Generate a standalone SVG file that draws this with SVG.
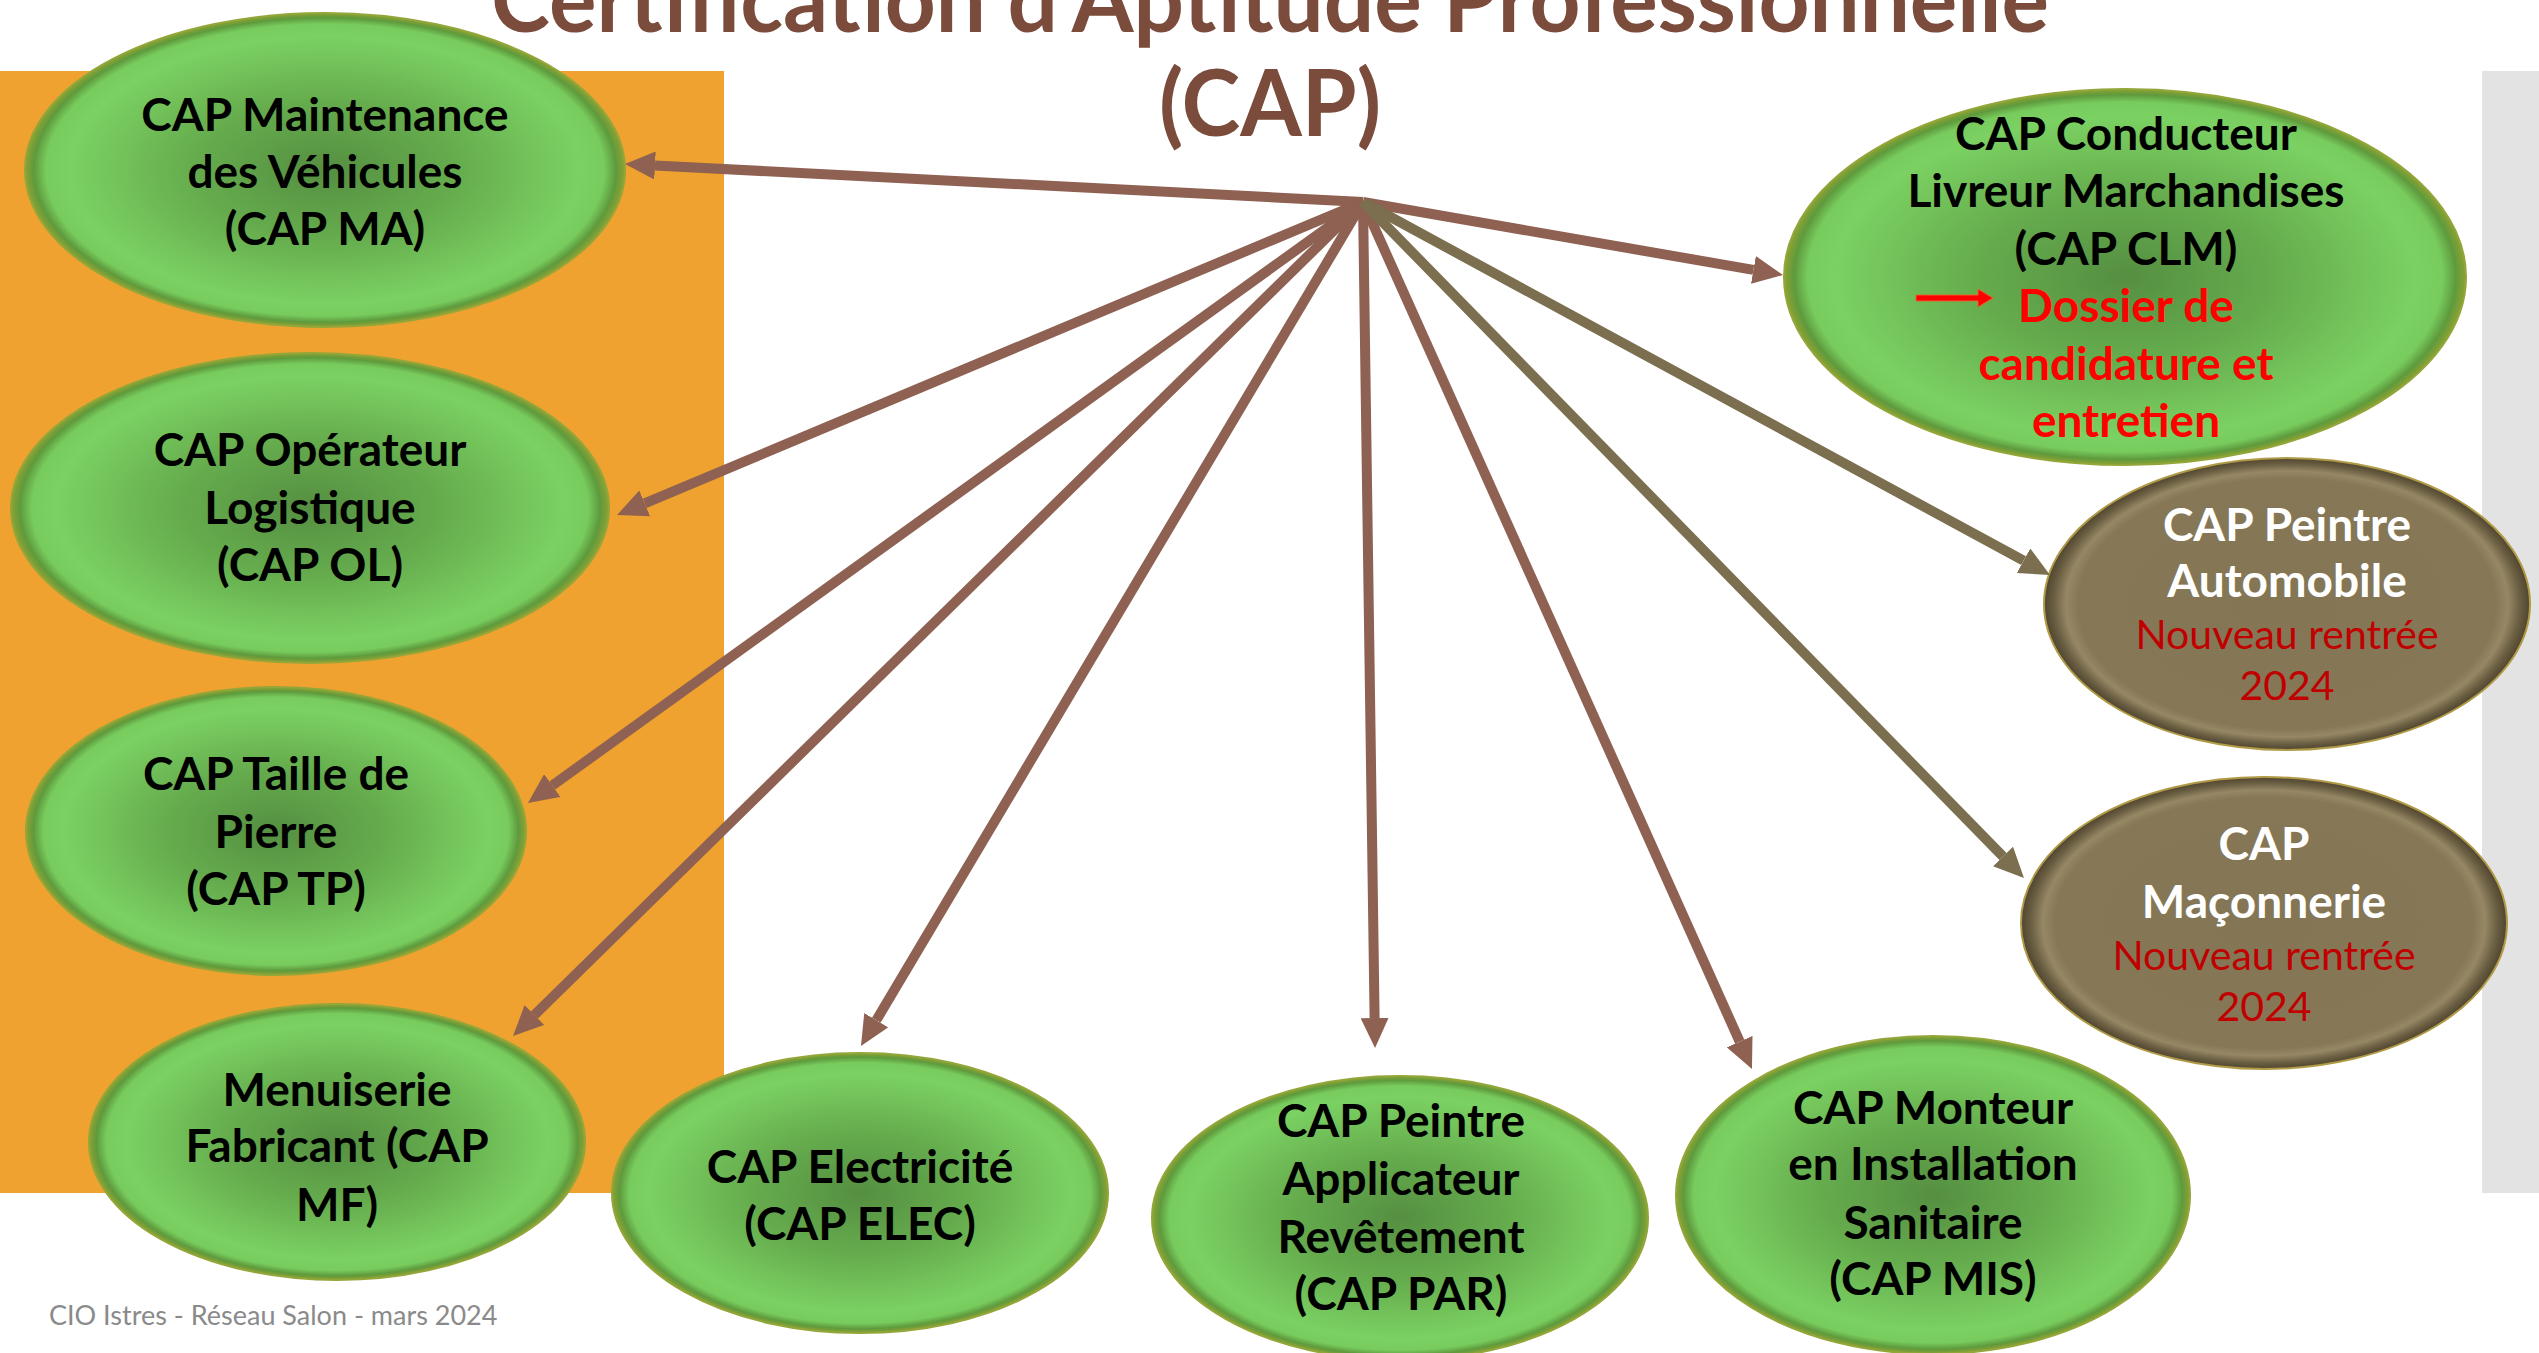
<svg xmlns="http://www.w3.org/2000/svg" width="2539" height="1353" viewBox="0 0 2539 1353">
<defs>
<radialGradient id="gGreen" cx="50%" cy="50%" r="50%">
<stop offset="0%" stop-color="#558f41"/>
<stop offset="45%" stop-color="#66ad4e"/>
<stop offset="85%" stop-color="#7bd162"/>
<stop offset="93%" stop-color="#78cc5e"/>
<stop offset="97%" stop-color="#5e9a3d"/>
<stop offset="100%" stop-color="#8da232"/>
</radialGradient>
<radialGradient id="gBrown" cx="50%" cy="50%" r="50%">
<stop offset="0%" stop-color="#847655"/>
<stop offset="86%" stop-color="#867857"/>
<stop offset="91%" stop-color="#968865"/>
<stop offset="96%" stop-color="#6a5e42"/>
<stop offset="100%" stop-color="#4f4530"/>
</radialGradient>
<marker id="ahB" viewBox="0 -14 30 28" refX="0" refY="0" markerWidth="30" markerHeight="28" markerUnits="userSpaceOnUse" orient="auto">
<path d="M0,-14 L30,0 L0,14 z" fill="#8e6152"/>
</marker>
<marker id="ahO" viewBox="0 -14 30 28" refX="0" refY="0" markerWidth="30" markerHeight="28" markerUnits="userSpaceOnUse" orient="auto">
<path d="M0,-14 L30,0 L0,14 z" fill="#7b6f4f"/>
</marker>
</defs>
<style>
.g{fill:url(#gGreen);stroke:#93a63a;stroke-width:2}
.b{fill:url(#gBrown);stroke:#b09a45;stroke-width:2}
.t{font-family:Lato,"Liberation Sans",sans-serif;font-weight:bold;font-size:46px;text-anchor:middle;fill:#000}
.w{fill:#fff}
.rb{fill:#ff0000}
.rn{font-family:Lato,"Liberation Sans",sans-serif;font-weight:normal;font-size:41px;text-anchor:middle;fill:#c00000}
.cb{fill:none;stroke:#8e6152;stroke-width:10;marker-end:url(#ahB)}
.co{fill:none;stroke:#7b6f4f;stroke-width:10;marker-end:url(#ahO)}
</style>
<rect x="0" y="0" width="2539" height="1353" fill="#ffffff"/>
<rect x="0" y="71" width="724" height="1122" fill="#efa22f"/>
<rect x="2482" y="71" width="57" height="1122" fill="#e3e3e3"/>
<g id="title" font-family="Lato,'Liberation Sans',sans-serif" font-weight="bold" font-size="92" fill="#7b4b3b" text-anchor="middle">
<text x="1270" y="32" textLength="1558" lengthAdjust="spacingAndGlyphs">Certification d’Aptitude Professionnelle</text>
<text x="1270" y="136" textLength="222" lengthAdjust="spacingAndGlyphs">(CAP)</text>
</g>
<g id="node-ma">
<ellipse class="g" cx="325" cy="170" rx="300" ry="157"/>
<text class="t" x="325" y="131">CAP Maintenance</text>
<text class="t" x="325" y="188">des Véhicules</text>
<text class="t" x="325" y="245">(CAP MA)</text>
</g>
<g id="node-ol">
<ellipse class="g" cx="310" cy="508" rx="299" ry="155"/>
<text class="t" x="310" y="466">CAP Opérateur</text>
<text class="t" x="310" y="524">Logistique</text>
<text class="t" x="310" y="581">(CAP OL)</text>
</g>
<g id="node-tp">
<ellipse class="g" cx="276" cy="831" rx="250" ry="144"/>
<text class="t" x="276" y="790">CAP Taille de</text>
<text class="t" x="276" y="848">Pierre</text>
<text class="t" x="276" y="905">(CAP TP)</text>
</g>
<g id="node-mf">
<ellipse class="g" cx="337" cy="1142" rx="248" ry="138"/>
<text class="t" x="337" y="1106">Menuiserie</text>
<text class="t" x="337" y="1162">Fabricant (CAP</text>
<text class="t" x="337" y="1221">MF)</text>
</g>
<g id="node-elec">
<ellipse class="g" cx="860" cy="1193" rx="248" ry="140"/>
<text class="t" x="860" y="1183">CAP Electricité</text>
<text class="t" x="860" y="1240">(CAP ELEC)</text>
</g>
<g id="node-par">
<ellipse class="g" cx="1400" cy="1218" rx="248" ry="142"/>
<text class="t" x="1401" y="1137">CAP Peintre</text>
<text class="t" x="1401" y="1195">Applicateur</text>
<text class="t" x="1401" y="1253">Revêtement</text>
<text class="t" x="1401" y="1310">(CAP PAR)</text>
</g>
<g id="node-mis">
<ellipse class="g" cx="1933" cy="1195" rx="257" ry="159"/>
<text class="t" x="1933" y="1124">CAP Monteur</text>
<text class="t" x="1933" y="1180">en Installation</text>
<text class="t" x="1933" y="1239">Sanitaire</text>
<text class="t" x="1933" y="1295">(CAP MIS)</text>
</g>
<g id="node-clm">
<ellipse class="g" cx="2125" cy="277" rx="341" ry="188"/>
<text class="t" x="2126" y="150">CAP Conducteur</text>
<text class="t" x="2126" y="207">Livreur Marchandises</text>
<text class="t" x="2126" y="265">(CAP CLM)</text>
<path d="M1916,295 L1978,295 L1978,289 L1993,298 L1978,307 L1978,301 L1916,301 z" fill="#ff0000" stroke="#e8622a" stroke-width="1"/>
<text class="t rb" x="2126" y="322">Dossier de</text>
<text class="t rb" x="2126" y="380">candidature et</text>
<text class="t rb" x="2126" y="437">entretien</text>
</g>
<g id="node-auto">
<ellipse class="b" cx="2287" cy="604" rx="243" ry="146"/>
<text class="t w" x="2287" y="541">CAP Peintre</text>
<text class="t w" x="2287" y="597">Automobile</text>
<text class="rn" x="2287" y="649">Nouveau rentrée</text>
<text class="rn" x="2287" y="700">2024</text>
</g>
<g id="node-mac">
<ellipse class="b" cx="2264" cy="923" rx="243" ry="146"/>
<text class="t w" x="2264" y="860">CAP</text>
<text class="t w" x="2264" y="918">Maçonnerie</text>
<text class="rn" x="2264" y="970">Nouveau rentrée</text>
<text class="rn" x="2264" y="1021">2024</text>
</g>
<g id="connectors">
<path class="cb" d="M1363,202 L655,165.5"/>
<path class="cb" d="M1363,202 L1753.4,269.9"/>
<path class="cb" d="M1363,202 L644.7,503.4"/>
<path class="cb" d="M1363,202 L552.3,785.5"/>
<path class="cb" d="M1363,202 L534.4,1015"/>
<path class="cb" d="M1363,202 L876.3,1020.2"/>
<path class="cb" d="M1363,202 L1374.6,1018"/>
<path class="cb" d="M1363,202 L1739.7,1041.6"/>
<path class="co" d="M1363,202 L2023.6,560.7"/>
<path class="co" d="M1363,202 L2003,856.5"/>
</g>
<text id="footer" x="49" y="1325" font-family="Lato,'Liberation Sans',sans-serif" font-size="27" fill="#8a8a8a">CIO Istres - Réseau Salon - mars 2024</text>
</svg>
